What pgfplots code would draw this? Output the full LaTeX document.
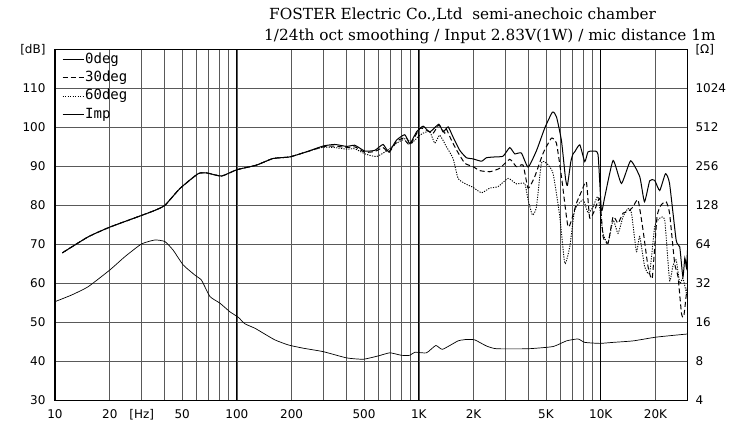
\documentclass[border=0pt]{standalone}
\usepackage{pgfplots}
\pgfplotsset{compat=1.18}
\usepackage{fontspec}
\setmainfont{DejaVu Serif}
\newfontfamily\tickfont{DejaVu Sans}
\newfontfamily\legfont{DejaVu Sans Mono}
\begin{document}
\begin{tikzpicture}[x=1pt,y=1pt]
\begin{axis}[
  at={(0,0)}, anchor=south west,
  scale only axis, width=632.5pt, height=351pt,
  xmode=log, xmin=10, xmax=30000, ymin=30, ymax=120,
  xtick={10,20,30,50,100,200,500,1000,2000,5000,10000,20000},
  xticklabels={10,20,[Hz],50,100,200,500,1K,2K,5K,10K,20K},
  minor xtick={40,60,70,80,90,300,400,600,700,800,900,3000,4000,6000,7000,8000,9000},
  extra x ticks={100,1000,10000}, extra x tick labels={},
  extra x tick style={major grid style={black, line width=1pt}},
  ytick={30,40,...,120}, yticklabels={30,40,50,60,70,80,90,100,110,[dB]},
  grid=both,
  major grid style={black!65, line width=0.6pt},
  minor grid style={black!65, line width=0.6pt},
  major tick length=0pt, minor tick length=0pt,
  axis line style={black, line width=1.1pt},
  tick label style={font=\tickfont\fontsize{12}{14}\selectfont},
  xticklabel style={yshift=-6pt},
  yticklabel style={xshift=-6pt},
  legend style={at={(rel axis cs:0,1)}, anchor=north west, xshift=7pt, yshift=-2pt,
    draw=none, fill=none, inner sep=0pt,
    font=\legfont\fontsize{14}{16}\selectfont, row sep=3pt,
    nodes={inner sep=1pt, text height=10.5pt, text depth=3pt}},
  legend cell align=left,
  legend image code/.code={\draw[#1] (0pt,0pt) -- (21pt,0pt);},
]
\addplot[black, line width=1pt, smooth, tension=0.3] coordinates {
(10.97,67.8) (15.2,71.9) (20.0,74.4) (29.9,77.4) (35.4,78.7) (40.2,80.0) (48.6,84.3)
(61.2,88.1) (68.2,88.3) (82.4,87.5) (99.6,89.1) (128,90.3) (158,92.0) (195,92.4)
(241,93.7) (298,95.2) (345,95.6) (401,95.1) (445,95.4) (505,93.9) (573,94.1)
(636,95.6) (684,93.7) (754,96.7) (837,98.1) (893,95.8) (971,98.8) (1056,100.3)
(1149,98.8) (1288,100.8) (1360,98.8) (1449,100.1) (1543,97.5) (1679,94.1) (1828,92.2)
(1988,91.9) (2211,91.3) (2357,92.2) (2617,92.4) (2907,92.6) (3162,94.8) (3368,93.2)
(3664,93.4) (3990,89.8) (4434,94.0) (4924,99.8) (5428,103.9) (5711,102.7) (6087,96.5)
(6400,87.0) (6560,85.1) (6850,91.2) (7046,93.2) (7194,93.7) (7674,95.5) (8170,91.2)
(8515,93.7) (9073,93.9) (9667,93.0) (10090,78.7) (10520,82.1) (11700,91.5) (13000,85.6)
(14600,91.4) (16400,87.3) (17400,80.9) (18600,86.3) (19800,86.4) (21100,83.8)
(22700,88.1) (23900,85.6) (26000,71.0) (27200,69.3) (28300,61.6) (29000,66.5)
(29600,64.0) (30000,68.5)
};
\addlegendentry{0deg}
\addplot[black, line width=1pt, dash pattern=on 5pt off 3pt, smooth, tension=0.3] coordinates {
(10.97,67.8) (15.2,71.9) (20.0,74.4) (29.9,77.4) (35.4,78.7) (40.2,80.0) (48.6,84.3)
(61.2,88.1) (68.2,88.3) (82.4,87.5) (99.6,89.1) (128,90.3) (158,92.0) (195,92.4)
(241,93.7) (298,95.0) (345,95.2) (401,94.8) (445,95.0) (505,93.6) (573,93.8)
(636,94.8) (684,93.5) (754,96.3) (820,97.2) (893,95.5) (1012,99.7) (1101,99.3)
(1199,98.5) (1288,100.6) (1389,98.5) (1420,99.5) (1480,97.6) (1611,94.2) (1790,90.8)
(1988,89.9) (2163,88.9) (2454,88.6) (2786,89.5) (3162,91.8) (3441,89.9) (3743,90.3)
(3990,84.4) (4335,87.3) (4818,93.3) (5358,97.2) (5711,95.9) (6087,87.3) (6610,74.5)
(7046,77.5) (7350,80.5) (7830,83.5) (8340,86.0) (8700,76.7) (9270,78.8) (9880,81.8)
(10300,72.0) (10970,70.3) (11700,77.1) (12450,75.4) (13270,78.0) (14140,78.4)
(15060,79.6) (16040,81.4) (17080,73.7) (18200,64.3) (19200,61.3) (20400,77.1)
(21500,80.1) (22900,80.9) (23900,78.0) (25500,65.1) (26600,61.7) (27800,52.3)
(28600,51.4) (29600,57.4) (30000,59.0)
};
\addlegendentry{30deg}
\addplot[black, line width=0.9pt, dash pattern=on 1.2pt off 1.3pt, smooth, tension=0.3] coordinates {
(10.97,67.8) (15.2,71.9) (20.0,74.4) (29.9,77.4) (35.4,78.7) (40.2,80.0) (48.6,84.3)
(61.2,88.1) (68.2,88.3) (82.4,87.5) (99.6,89.1) (128,90.3) (158,92.0) (195,92.4)
(241,93.7) (298,94.9) (345,94.8) (401,94.4) (445,94.5) (505,93.2) (586,92.5)
(678,94.2) (754,95.9) (855,97.2) (912,95.9) (991,97.6) (1056,98.5) (1149,98.9)
(1224,95.9) (1303,98.0) (1419,95.0) (1543,92.0) (1644,86.9) (1790,85.6) (1988,84.6)
(2213,83.2) (2454,84.4) (2730,84.8) (3097,86.9) (3441,85.5) (3820,85.6) (3990,81.4)
(4215,77.5) (4434,79.6) (4720,90.8) (5030,90.8) (5470,88.2) (5957,77.1) (6347,65.1)
(6760,69.4) (7200,78.8) (8000,81.4) (8530,78.0) (9080,79.6) (9670,82.2) (10300,72.8)
(10970,70.3) (11700,76.2) (12450,72.8) (13270,77.1) (14140,79.2) (14760,78.0)
(15720,68.1) (16380,72.0) (17440,64.3) (18580,62.6) (19800,74.5) (21100,76.7)
(22480,76.2) (23900,60.8) (24900,64.3) (26000,66.0) (27200,60.0) (28300,61.3)
(29600,57.4)
};
\addlegendentry{60deg}
\addlegendimage{black, line width=0.7pt}
\addlegendentry{Imp}
\end{axis}
\begin{axis}[
  at={(0,0)}, anchor=south west,
  scale only axis, width=632.5pt, height=351pt,
  xmode=log, xmin=10, xmax=30000,
  ymode=log, log basis y=2, ymin=4, ymax=2048,
  axis x line=none, axis y line*=right, y axis line style={draw=none},
  ytick={4,8,16,32,64,128,256,512,1024,2048},
  yticklabels={4,8,16,32,64,128,256,512,1024,[Ω]},
  major tick length=0pt,
  tick label style={font=\tickfont\fontsize{12}{14}\selectfont},
  yticklabel style={xshift=4.5pt},
]
\addplot[black, line width=0.7pt, smooth, tension=0.3] coordinates {
(10,23.1) (12.35,26.0) (15.2,30.1) (20.0,40.5) (24.2,51.3) (29.9,64.4) (35.4,69.1)
(40.2,67.2) (44.6,57.7) (50.7,44.3) (58.8,37.0) (63.9,33.8) (71.1,25.3) (80.6,22.5)
(91.5,19.3) (101.7,17.5) (110.6,15.6) (125.6,14.4) (139.5,13.2) (161.8,11.7)
(191.5,10.7) (231.4,10.1) (298,9.5) (401,8.5) (495,8.3) (598,8.8) (693,9.3)
(803,8.9) (893,8.9) (951,9.4) (1102,9.3) (1240,10.6) (1349,9.9) (1642,11.5)
(1751,11.7) (1828,11.8) (2032,11.7) (2355,10.5) (2673,10.0) (3990,10.0) (5470,10.4)
(6480,11.5) (7500,11.9) (8170,11.2) (9880,11.0) (11700,11.2) (15070,11.5)
(20240,12.3) (30000,13.0)
};
\end{axis}
\node[anchor=base west, inner sep=0pt, font=\fontsize{15.3}{17}\selectfont] at (214,381) {FOSTER Electric Co.,Ltd\ \ semi-anechoic chamber};
\node[anchor=base west, inner sep=0pt, font=\fontsize{15.3}{17}\selectfont] at (209,360) {1/24th oct smoothing / Input 2.83V(1W) / mic distance 1m};
\pgfresetboundingbox
\path[use as bounding box] (-55,-28.7) rectangle (690,400.3);
\end{tikzpicture}
\end{document}
